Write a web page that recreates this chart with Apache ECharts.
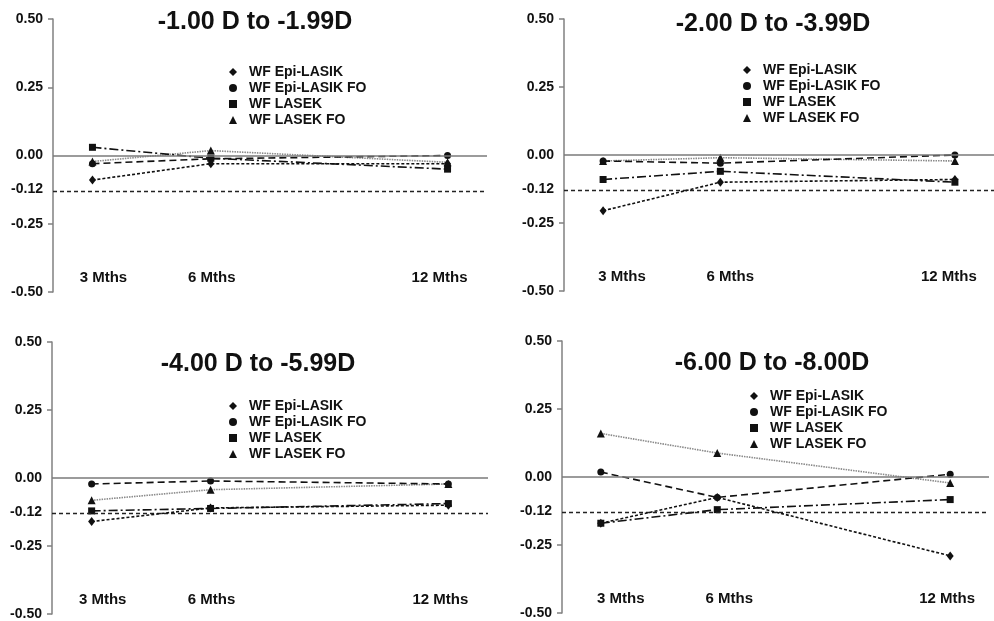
<!DOCTYPE html>
<html>
<head>
<meta charset="utf-8">
<script src="https://cdn.jsdelivr.net/npm/echarts@6/dist/echarts.min.js"></script>
<style>html,body{margin:0;padding:0;background:#fff}#c{width:994px;height:621px}</style>
</head>
<body>
<div id="c"></div>
<script>
// ---- data ----
const months = [3, 6, 12];
const monthLabels = ['3 Mths', '6 Mths', '12 Mths'];
const panelTitles = ['-1.00 D to -1.99D', '-2.00 D to -3.99D', '-4.00 D to -5.99D', '-6.00 D to -8.00D'];
const seriesNames = ['WF Epi-LASIK', 'WF Epi-LASIK FO', 'WF LASEK', 'WF LASEK FO'];
// values per panel (3, 6, 12 months)
const wfEpiLasik   = [[-0.09, -0.03, -0.03], [-0.205, -0.10, -0.09], [-0.16, -0.11, -0.10], [-0.17, -0.075, -0.29]];
const wfEpiLasikFO = [[-0.03, -0.012, 0.0], [-0.022, -0.03, 0.0], [-0.022, -0.011, -0.022], [0.018, -0.075, 0.01]];
const wfLasek      = [[0.03, -0.01, -0.05], [-0.09, -0.06, -0.10], [-0.121, -0.112, -0.094], [-0.17, -0.12, -0.083]];
const wfLasekFO    = [[-0.022, 0.018, -0.025], [-0.022, -0.01, -0.022], [-0.082, -0.043, -0.022], [0.16, 0.088, -0.022]];
const yTicks = [0.5, 0.25, 0, -0.125, -0.25, -0.5];
const yTickLabels = ['0.50', '0.25', '0.00', '-0.12', '-0.25', '-0.50'];
const refLine = -0.125;

// ---- layout / style ----
const FONT = 'Liberation Sans, Arial, sans-serif';
const grids = [
  {left: 53, top: 19, width: 434, height: 273},
  {left: 564, top: 19, width: 430, height: 272},
  {left: 52, top: 342, width: 436, height: 273},
  {left: 562, top: 341, width: 427, height: 272}
];
const titlePos = [[255, 10], [773, 12], [258, 352], [772, 351]];
const legendPos = [[229, 65], [743, 63], [229, 399], [750, 389]];
// label horizontal shifts (padding) per panel: [left pad for 3, left pad for 6, right pad for 12]
const xLabelPad = [[22, 2, 16], [38, 20, 12], [22, 2, 16], [40, 24, 6]];
const symbols = ['diamond', 'circle', 'rect', 'triangle'];
const symbolSizes = [[7, 9], 7, 7, 8];
const lineStyles = [
  {color: '#111', width: 1.6, type: [3, 2]},
  {color: '#111', width: 1.6, type: [7, 4]},
  {color: '#111', width: 1.6, type: [9, 3, 2, 3]},
  {color: '#8a8a8a', width: 1.6, type: [1.5, 1]}
];
const allData = [wfEpiLasik, wfEpiLasikFO, wfLasek, wfLasekFO];

const lblStyle = {fontFamily: FONT, fontSize: 15, fontWeight: 'bold', color: '#111'};

const option = {
  animation: false,
  backgroundColor: '#fff',
  textStyle: {fontFamily: FONT},
  title: panelTitles.map((t, i) => ({
    text: t, left: titlePos[i][0], top: titlePos[i][1], textAlign: 'center', padding: 0,
    textStyle: {fontFamily: FONT, fontSize: 25, fontWeight: 'bold', color: '#111'}
  })),
  legend: legendPos.map((p, i) => ({
    orient: 'vertical', left: p[0], top: p[1], itemWidth: 8, itemHeight: 8, itemGap: 2,
    padding: 0, selectedMode: false,
    textStyle: {fontFamily: FONT, fontSize: 14, fontWeight: 'bold', color: '#111', padding: [0, 0, 0, 7]},
    data: seriesNames.map((n, k) => ({name: n, icon: symbols[k], itemStyle: {color: '#111'}}))
  })),
  grid: grids,
  xAxis: grids.map((g, i) => ({
    type: 'value', gridIndex: i, min: 2, max: 13,
    axisLine: {show: false}, axisTick: {show: false}, splitLine: {show: false},
    axisLabel: {
      show: true, inside: true, margin: 7, customValues: months,
      formatter: v => ['{a|', '{b|', '{c|'][months.indexOf(v)] + monthLabels[months.indexOf(v)] + '}',
      rich: {
        a: Object.assign({padding: [0, 0, 0, xLabelPad[i][0]]}, lblStyle),
        b: Object.assign({padding: [0, 0, 0, xLabelPad[i][1]]}, lblStyle),
        c: Object.assign({padding: [0, xLabelPad[i][2], 0, 0]}, lblStyle)
      }
    }
  })),
  yAxis: grids.map((g, i) => ({
    type: 'value', gridIndex: i, min: -0.5, max: 0.5,
    axisLine: {show: true, lineStyle: {color: '#808080', width: 1.5}},
    axisTick: {show: true, length: 5, customValues: [0.5, 0.25, -0.25, -0.5], lineStyle: {color: '#808080', width: 1.5}},
    splitLine: {show: false},
    axisLabel: {
      customValues: yTicks, margin: 10,
      formatter: v => yTickLabels[yTicks.indexOf(v)] ?? v.toFixed(2),
      fontFamily: FONT, fontSize: 14, fontWeight: 'bold', color: '#111'
    }
  })),
  series: []
};

grids.forEach((g, i) => {
  seriesNames.forEach((name, k) => {
    const s = {
      name, type: 'line', xAxisIndex: i, yAxisIndex: i,
      data: months.map((m, j) => [m, allData[k][i][j]]),
      symbol: symbols[k], symbolSize: symbolSizes[k],
      itemStyle: {color: '#111'},
      lineStyle: lineStyles[k],
      z: 5 - k
    };
    if (k === 0) {
      s.markLine = {
        silent: true, symbol: 'none', label: {show: false}, animation: false,
        data: [
          {yAxis: 0, lineStyle: {color: '#7a7a7a', width: 1.6, type: 'solid'}},
          {yAxis: refLine, lineStyle: {color: '#222', width: 1.3, type: [4, 3]}}
        ]
      };
    }
    option.series.push(s);
  });
});

const chart = echarts.init(document.getElementById('c'), null, {renderer: 'canvas'});
chart.setOption(option);
</script>
</body>
</html>
